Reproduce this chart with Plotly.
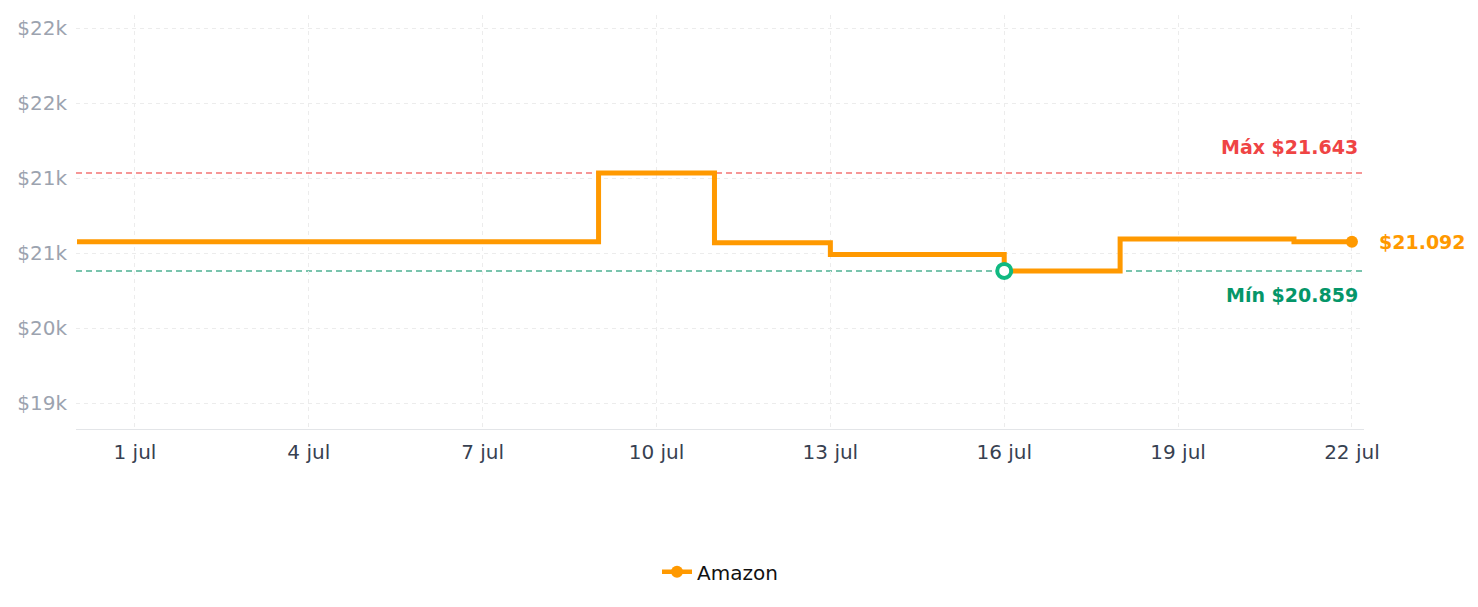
import plotly.graph_objects as go

# ---- data ----
dates = ["2025-06-30", "2025-07-09", "2025-07-11", "2025-07-13", "2025-07-16",
         "2025-07-18", "2025-07-21", "2025-07-22"]
prices = [21092, 21643, 21085, 20990, 20859, 21115, 21092, 21092]
series_name = "Amazon"

y_tickvals = [19800, 20400, 21000, 21600, 22200, 22800]
y_ticktext = ["$19k", "$20k", "$21k", "$21k", "$22k", "$22k"]
x_tickvals = ["2025-07-01", "2025-07-04", "2025-07-07", "2025-07-10", "2025-07-13",
              "2025-07-16", "2025-07-19", "2025-07-22"]
x_ticktext = ["1 jul", "4 jul", "7 jul", "10 jul", "13 jul", "16 jul", "19 jul", "22 jul"]

def fmt(v):
    return "${:,}".format(v).replace(",", ".")

max_p = max(prices)
min_p = min(prices)
min_i = prices.index(min_p)
last_p = prices[-1]

ORANGE = "#ff9900"
RED_T = "#ef4444"
GREEN = "#10b981"
GREEN_T = "#059669"
FONT = "DejaVu Sans"

fig = go.Figure()
fig.add_trace(go.Scatter(x=dates, y=prices, mode="lines", line=dict(color=ORANGE, width=5, shape="hv"),
                         showlegend=False, legendgroup="a", hoverinfo="skip"))
fig.add_trace(go.Scatter(x=[dates[-1]], y=[last_p], mode="lines+markers", name=series_name,
                         line=dict(color=ORANGE, width=4.5), marker=dict(color=ORANGE, size=12),
                         legendgroup="a"))
fig.add_trace(go.Scatter(x=[dates[min_i]], y=[min_p], mode="markers", showlegend=False,
                         marker=dict(color="white", size=14, line=dict(color=GREEN, width=4))))

fig.add_shape(type="line", xref="paper", x0=0, x1=1, yref="y", y0=max_p, y1=max_p,
              line=dict(color="rgba(239,68,68,0.75)", width=1.5, dash="6px,4px"), layer="below")
fig.add_shape(type="line", xref="paper", x0=0, x1=1, yref="y", y0=min_p, y1=min_p,
              line=dict(color="rgba(16,150,110,0.75)", width=1.5, dash="6px,4px"), layer="below")

fig.add_annotation(xref="paper", x=0.9968, y=max_p, yref="y", text="<b>Máx " + fmt(max_p) + "</b>",
                   showarrow=False, xanchor="right", yanchor="middle", yshift=26,
                   font=dict(family=FONT, size=19, color=RED_T))
fig.add_annotation(xref="paper", x=0.9968, y=min_p, yref="y", text="<b>Mín " + fmt(min_p) + "</b>",
                   showarrow=False, xanchor="right", yanchor="middle", yshift=-24,
                   font=dict(family=FONT, size=19, color=GREEN_T))
fig.add_annotation(x=dates[-1], y=last_p, text="<b>" + fmt(last_p) + "</b>",
                   showarrow=False, xanchor="left", yanchor="middle", xshift=25,
                   font=dict(family=FONT, size=19, color=ORANGE))

fig.update_layout(
    width=1478, height=607,
    margin=dict(l=76, r=114, t=15, b=178),
    paper_bgcolor="white", plot_bgcolor="white",
    font=dict(family=FONT),
    showlegend=True,
    legend=dict(orientation="h", x=0.5, xanchor="center", y=-0.345, yanchor="middle",
                font=dict(family=FONT, size=20, color="#111111")),
    xaxis=dict(type="date", range=["2025-06-29 23:35", "2025-07-22 05:00"],
               tickvals=x_tickvals, ticktext=x_ticktext,
               showgrid=True, gridcolor="#ececec", griddash="4px,4px", gridwidth=1,
               showline=True, linecolor="#e3e5e8", linewidth=1, zeroline=False,
               ticks="", ticklabelstandoff=5,
               tickfont=dict(family=FONT, size=20, color="#374151")),
    yaxis=dict(range=[19594, 22906], tickvals=y_tickvals, ticktext=y_ticktext,
               showgrid=True, gridcolor="#ececec", griddash="4px,4px", gridwidth=1,
               showline=False, zeroline=False, ticks="", ticklabelstandoff=8,
               tickfont=dict(family=FONT, size=20, color="#9ca3af")),
)

fig.write_html("out.html")
